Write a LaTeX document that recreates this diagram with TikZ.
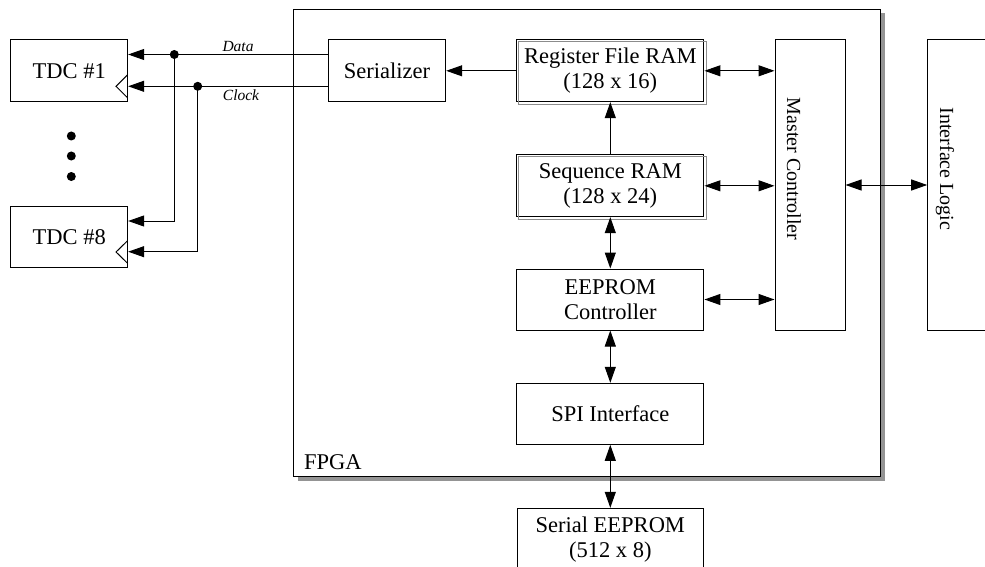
\documentclass[tikz,border=0pt]{standalone}
\usepackage{fontspec}
\setmainfont{Liberation Serif}
\usetikzlibrary{arrows.meta,calc}
\begin{document}
\begin{tikzpicture}[x=1pt,y=-1pt,
 box/.style={draw, line width=1pt, inner sep=0pt, align=center, fill=white,
   font=\fontsize{22.5}{25}\selectfont},
 arr/.style={line width=1pt, -{Triangle[length=16pt,width=11pt]}},
 dbl/.style={line width=1pt, {Triangle[length=16pt,width=11pt]}-{Triangle[length=16pt,width=11pt]}},
 wire/.style={line width=1pt},
 lbl/.style={font=\fontsize{15.5}{18}\selectfont\itshape, inner sep=0pt},
 rot/.style={rotate=-90, inner sep=0pt, font=\fontsize{20}{24}\selectfont},
 ghost/.style={draw=black!45, line width=1pt},
 ]
\useasboundingbox (0,0) rectangle (985,567);

% FPGA container with shadow
\fill[black!42] (297.5,13.5) rectangle (885,480.5);
\node[draw, line width=1pt, fill=white, minimum width=587.4pt, minimum height=466.7pt, inner sep=0pt] (fpga) at (587,242.65) {};
\node[anchor=west, inner sep=0pt, font=\fontsize{22.5}{25}\selectfont] (fpgal) at (304,462) {FPGA};

% TDCs
\node[box, minimum width=116.7pt, minimum height=61.7pt] (tdc1) at (69.3,70.8) {TDC \#1};
\node[box, minimum width=116.7pt, minimum height=61.3pt] (tdc8) at (69.3,237.3) {TDC \#8};
\draw[line width=1pt] (127.3,75) -- (116,86.3) -- (127.3,97.5);
\draw[line width=1pt] (127.3,241) -- (116,252) -- (127.3,263);
\fill (71.3,136) circle (4.5pt);
\fill (71.3,156) circle (4.5pt);
\fill (71.3,176.5) circle (4.5pt);

% FPGA internals
\node[box, minimum width=117.4pt, minimum height=61.7pt] (ser) at (387,70.8) {Serializer};
\node[box, minimum width=187.3pt, minimum height=61.7pt] (reg) at (610.3,70.8) {Register File RAM\\(128 x 16)};
\draw[ghost] ([shift={(2.3pt,-2.3pt)}]reg.north west) rectangle ([shift={(2.3pt,-2.3pt)}]reg.south east);
\node[box, minimum width=187.3pt, minimum height=61.7pt] (seq) at (610.3,185.8) {Sequence RAM\\(128 x 24)};
\draw[ghost] ([shift={(2.3pt,-2.3pt)}]seq.north west) rectangle ([shift={(2.3pt,-2.3pt)}]seq.south east);
\node[box, minimum width=187.3pt, minimum height=61pt] (eec) at (610.3,299.5) {EEPROM\\Controller};
\node[box, minimum width=187.3pt, minimum height=61pt] (spi) at (610.3,413.8) {SPI Interface};
\node[box, minimum width=186.6pt, minimum height=61.7pt] (see) at (610.3,539.2) {Serial EEPROM\\(512 x 8)};
\node[box, minimum width=70pt, minimum height=290pt] (mc) at (810,185) {};
\node[rot] (mct) at (794,169) {Master Controller};
\node[box, minimum width=70pt, minimum height=290pt] (il) at (962.7,185) {};
\node[rot] (ilt) at (945,169) {Interface Logic};

% junction points
\coordinate (j1) at (174.3,54.5);
\coordinate (j2) at (197.7,86.3);

% Data / Clock buses
\draw[wire] (ser.west |- j1) -- (j1);
\draw[arr] (j1) -- (tdc1.east |- j1);
\draw[arr] (j1) |- ([yshift=16.3pt]tdc8.east);
\draw[wire] (ser.west |- j2) -- (j2);
\draw[arr] (j2) -- (tdc1.east |- j2);
\draw[arr] (j2) |- ([yshift=-14.4pt]tdc8.east);
\fill (j1) circle (4.5pt);
\fill (j2) circle (4.5pt);
\node[lbl] (dlab) at (238,46.5) {Data};
\node[lbl] (clab) at (241,95) {Clock};

% internal connections
\draw[arr] (reg.west) -- (ser.east);
\draw[arr] (seq.north) -- (reg.south);
\draw[dbl] (reg.east) -- (mc.west |- reg.east);
\draw[dbl] (seq.east) -- (mc.west |- seq.east);
\draw[dbl] (eec.east) -- (mc.west |- eec.east);
\draw[dbl] (seq.south) -- (eec.north);
\draw[dbl] (eec.south) -- (spi.north);
\draw[dbl] (spi.south) -- (see.north);
\draw[dbl] (mc.east) -- (il.west);
\end{tikzpicture}
\end{document}
